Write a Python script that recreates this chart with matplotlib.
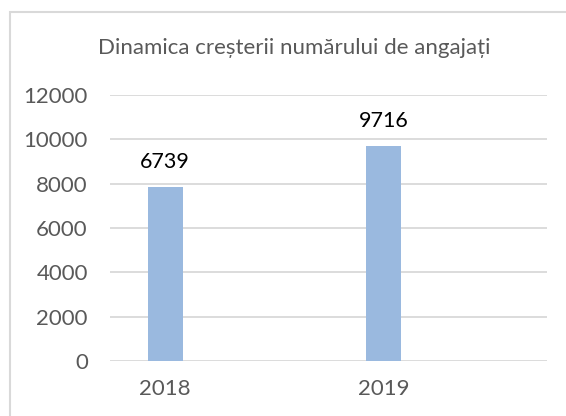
import matplotlib.pyplot as plt
from matplotlib.patches import Rectangle

years = ["2018", "2019"]
bar_heights = [7850, 9716]
bar_labels = ["6739", "9716"]
y_ticks = [0, 2000, 4000, 6000, 8000, 10000, 12000]
title = "Dinamica creșterii numărului de angajați"

plt.rcParams['font.family'] = ['Lato', 'DejaVu Sans']

W, H = 566, 416
fig = plt.figure(figsize=(W / 100, H / 100), dpi=100)

# light frame of the chart area (cut off at right and bottom)
fig.patches.append(Rectangle((9.5 / W, -0.1), 1.2, 1 - 12.5 / H + 0.1,
                             transform=fig.transFigure, fill=False,
                             edgecolor='#d9d9d9', linewidth=1.5))

ax = fig.add_axes([110 / W, (H - 361) / H, (547 - 110) / W, (361 - 95) / H])
x = range(len(years))
bars = ax.bar(x, bar_heights, width=0.16, color='#9ab9df', zorder=3)

for b, lab in zip(bars, bar_labels):
    ax.annotate(lab, (b.get_x() + b.get_width() / 2, b.get_height()),
                xytext=(0, 18), textcoords='offset points',
                ha='center', va='center', fontsize=15.5, color='black')

ax.set_xlim(-0.252, 1.748)
ax.set_ylim(0, 12000)
ax.set_yticks(y_ticks)
ax.set_yticklabels([str(v) for v in y_ticks])
ax.set_xticks(list(x))
ax.set_xticklabels(years)
ax.tick_params(axis='both', length=0, labelsize=16, labelcolor='#595959')
ax.tick_params(axis='y', pad=16)
ax.tick_params(axis='x', pad=13)
ax.grid(axis='y', color='#d9d9d9', linewidth=1.3, zorder=0)
for s in ax.spines.values():
    s.set_visible(False)

fig.text(294 / W, 1 - 48 / H, title, ha='center', va='center',
         fontsize=16, color='#595959')

fig.savefig('out.png', dpi=100)
